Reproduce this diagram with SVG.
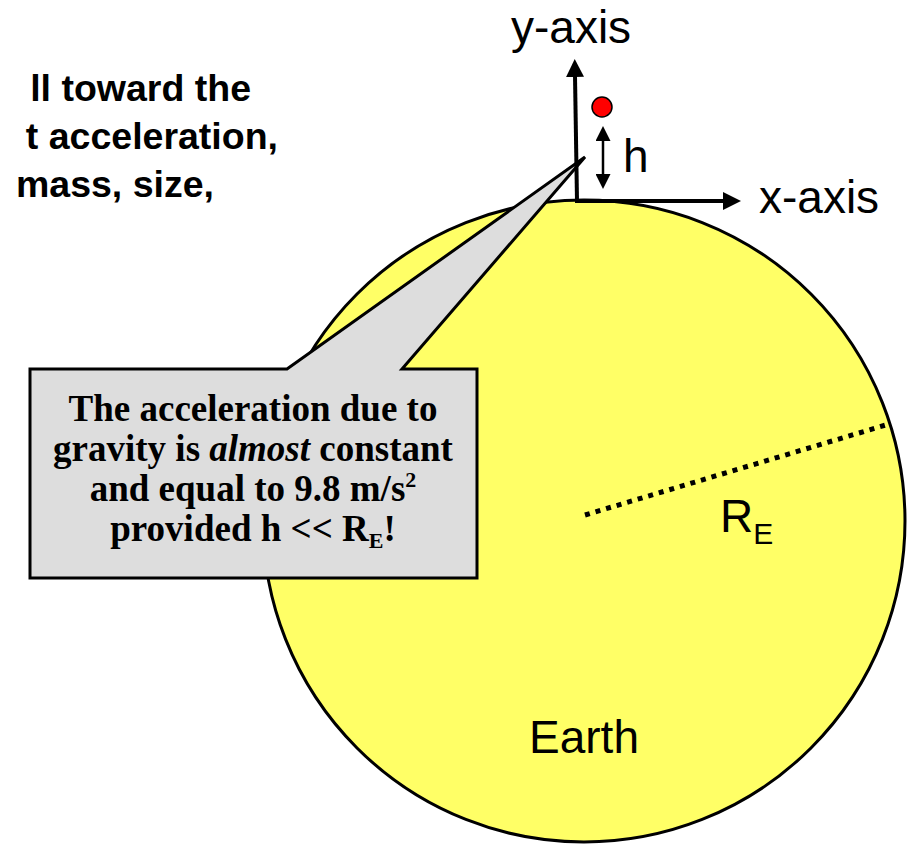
<svg xmlns="http://www.w3.org/2000/svg" width="907" height="845" viewBox="0 0 907 845">
<style>
.sans{font-family:"Liberation Sans",Arial,sans-serif;fill:#000}
.big{font-size:46px}
.head{font-size:37.5px;font-weight:bold;text-anchor:end}
.serif{font-family:"Liberation Serif","Times New Roman",serif;font-weight:bold;font-size:37px;text-anchor:middle;fill:#000}
.axis{stroke:#000;stroke-width:4;fill:none}
</style>
<defs>
<marker id="ah" markerUnits="userSpaceOnUse" viewBox="0 0 18 18" markerWidth="18" markerHeight="18" refX="1" refY="9" orient="auto"><path d="M0,0 L18,9 L0,18 z" fill="#000"/></marker>
<marker id="ahs" markerUnits="userSpaceOnUse" viewBox="0 0 15 15" markerWidth="15" markerHeight="15" refX="1" refY="7.5" orient="auto-start-reverse"><path d="M0,0 L15,7.5 L0,15 z" fill="#000"/></marker>
</defs>
<rect width="907" height="845" fill="#fff"/>
<g id="heading">
<text class="sans head" x="251" y="101">ll toward the</text>
<text class="sans head" x="278" y="149">t acceleration,</text>
<text class="sans head" x="214" y="197">mass, size,</text>
</g>
<g id="earth">
<circle cx="584" cy="521" r="321" fill="#ffff66" stroke="#000" stroke-width="3"/>
<text class="sans big" x="584" y="753" text-anchor="middle">Earth</text>
</g>
<g id="radius">
<line x1="585" y1="515" x2="889" y2="424" stroke="#000" stroke-width="5" stroke-dasharray="5 6"/>
<text class="sans big" x="720" y="532">R<tspan font-size="30" dy="12">E</tspan></text>
</g>
<g id="callout">
<path d="M30,369 L287,369 L585,157 L402,369 L477,369 L477,578 L30,578 Z" fill="#dddddd" stroke="#000" stroke-width="3" stroke-linejoin="miter"/>
<text class="serif" x="253" y="421">The acceleration due to</text>
<text class="serif" x="253" y="461">gravity is <tspan font-style="italic">almost</tspan> constant</text>
<text class="serif" x="253" y="501">and equal to 9.8 m/s<tspan font-size="22" dy="-14">2</tspan></text>
<text class="serif" x="253" y="541">provided h &lt;&lt; R<tspan font-size="22" dy="7">E</tspan><tspan dy="-7">!</tspan></text>
</g>
<g id="connectors">
<line class="axis" x1="577" y1="201" x2="575" y2="76" marker-end="url(#ah)"/>
<line class="axis" x1="575" y1="201" x2="724" y2="201" marker-end="url(#ah)"/>
<line x1="603" y1="140" x2="603" y2="175" stroke="#000" stroke-width="2.5" marker-start="url(#ahs)" marker-end="url(#ahs)"/>
</g>
<g id="labels">
<text class="sans big" x="511" y="43">y-axis</text>
<text class="sans big" x="759" y="213">x-axis</text>
<text class="sans big" x="623" y="172">h</text>
</g>
<g id="ball">
<circle cx="602" cy="107" r="10" fill="#ff0000" stroke="#000" stroke-width="1.5"/>
</g>
</svg>
